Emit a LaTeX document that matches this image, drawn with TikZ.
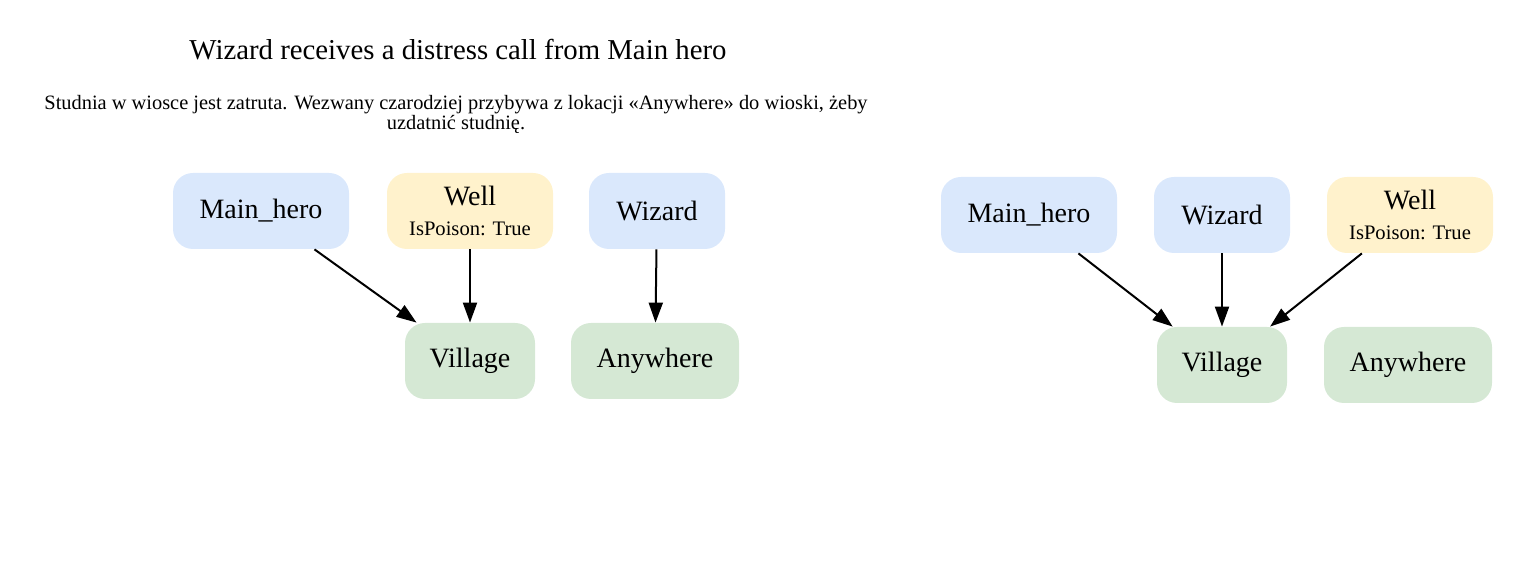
\documentclass[tikz,border=0pt]{standalone}
\usepackage{fontspec}
\setmainfont{Liberation Serif}
\usetikzlibrary{arrows.meta}
\definecolor{herofill}{HTML}{DAE8FC}
\definecolor{itemfill}{HTML}{FFF2CC}
\definecolor{placefill}{HTML}{D5E8D4}
\begin{document}
\begin{tikzpicture}[x=0.5pt,y=-0.5pt,
 box/.style={rectangle,rounded corners=10pt,minimum height=38pt,inner sep=0pt,
   font=\fontsize{14}{15}\selectfont,align=center},
 hero/.style={box,fill=herofill},
 item/.style={box,fill=itemfill},
 place/.style={box,fill=placefill},
 link/.style={-{Triangle[length=10pt,width=7pt]},line width=1pt}]
 \useasboundingbox (0,0) rectangle (1521,581);
 \node[font=\fontsize{14.4}{16}\selectfont] (title) at (458,50) {Wizard receives a distress call from Main hero};
 \node[font=\fontsize{10.2}{10}\selectfont,align=center] (sub) at (456,114)
   {Studnia w wiosce jest zatruta. Wezwany czarodziej przybywa z lokacji «Anywhere» do wioski, żeby\\uzdatnić studnię.};
 \node[hero,minimum width=88pt] (lhero) at (261,211) {Main\_hero};
 \node[item,minimum width=83pt] (lwell) at (470,211) {Well\\{\fontsize{10.3}{12}\selectfont IsPoison: True}};
 \node[hero,minimum width=68pt] (lwiz) at (657,211) {Wizard};
 \node[place,minimum width=65pt] (lvil) at (470,361) {Village};
 \node[place,minimum width=84pt] (lany) at (655,361) {Anywhere};
 \draw[link] (lhero)--(lvil);
 \draw[link] (lwell)--(lvil);
 \draw[link] (lwiz)--(lany);
 \node[hero,minimum width=88pt] (rhero) at (1029,215) {Main\_hero};
 \node[hero,minimum width=68pt] (rwiz) at (1222,215) {Wizard};
 \node[item,minimum width=83pt] (rwell) at (1410,215) {Well\\{\fontsize{10.3}{12}\selectfont IsPoison: True}};
 \node[place,minimum width=65pt] (rvil) at (1222,365) {Village};
 \node[place,minimum width=84pt] (rany) at (1408,365) {Anywhere};
 \draw[link] (rhero)--(rvil);
 \draw[link] (rwiz)--(rvil);
 \draw[link] (rwell)--(rvil);
\end{tikzpicture}
\end{document}
